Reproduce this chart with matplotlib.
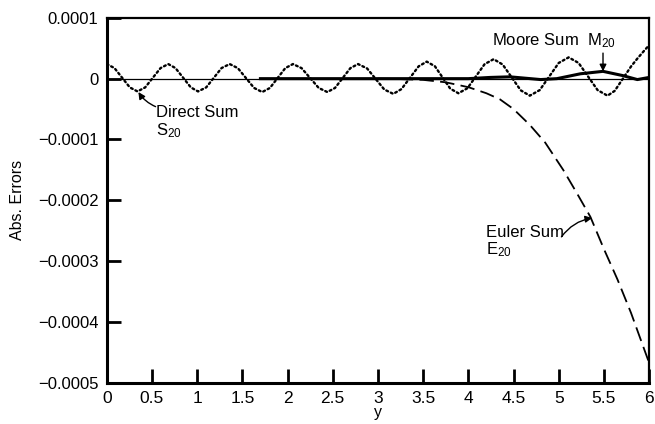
import matplotlib.pyplot as plt
from matplotlib.ticker import FixedLocator, FixedFormatter

plt.rcParams['font.family'] = ['Liberation Sans', 'DejaVu Sans']
plt.rcParams['mathtext.fontset'] = 'custom'
plt.rcParams['mathtext.rm'] = 'Liberation Sans'

# Direct sum S20 (dotted), values in units of 1e-4
direct_x = [0.00, 0.085, 0.17, 0.255, 0.34, 0.425, 0.51, 0.595, 0.68, 0.76, 0.845, 0.93,
            1.01, 1.10, 1.185, 1.27, 1.36, 1.45, 1.54, 1.63, 1.72, 1.805, 1.89, 1.975,
            2.06, 2.155, 2.25, 2.345, 2.44, 2.525, 2.61, 2.695, 2.78, 2.88, 2.975, 3.07,
            3.17, 3.26, 3.355, 3.45, 3.54, 3.63, 3.715, 3.80, 3.89, 3.99, 4.085, 4.18,
            4.28, 4.38, 4.48, 4.58, 4.68, 4.79, 4.895, 5.00, 5.11, 5.22, 5.325, 5.43,
            5.54, 5.62, 5.71, 5.80, 5.87, 5.94, 6.00]
direct_y = [0.24, 0.174, 0.015, -0.144, -0.21, -0.144, 0.015, 0.174, 0.24, 0.174, 0.015, -0.144,
            -0.21, -0.144, 0.015, 0.174, 0.24, 0.173, 0.01, -0.153, -0.22, -0.153, 0.01, 0.173,
            0.24, 0.173, 0.01, -0.153, -0.22, -0.153, 0.01, 0.173, 0.24, 0.168, -0.005, -0.178,
            -0.25, -0.172, 0.015, 0.202, 0.28, 0.204, 0.02, -0.164, -0.24, -0.158, 0.04, 0.238,
            0.32, 0.232, 0.02, -0.192, -0.28, -0.188, 0.035, 0.258, 0.35, 0.258, 0.035, -0.188,
            -0.28, -0.20, 0.0, 0.20, 0.33, 0.45, 0.55]

# Euler sum E20 (dashed)
euler_x = [3.0, 3.2, 3.5, 3.75, 4.0, 4.2, 4.35, 4.5, 4.68, 4.85, 5.05,
           5.2, 5.35, 5.5, 5.65, 5.8, 6.0]
euler_y = [0.0, -0.005, -0.02, -0.06, -0.14, -0.24, -0.34, -0.5, -0.76, -1.05, -1.5,
           -1.88, -2.27, -2.8, -3.3, -3.85, -4.67]

# Moore sum M20 (heavy solid)
moore_x = [1.7, 3.0, 4.0, 4.24, 4.46, 4.8, 4.98, 5.24, 5.49, 5.71, 5.87, 6.0]
moore_y = [0.0, 0.0, 0.0, 0.02, 0.03, -0.015, 0.0, 0.08, 0.12, 0.05, -0.015, 0.02]

x_ticks = [0, 0.5, 1, 1.5, 2, 2.5, 3, 3.5, 4, 4.5, 5, 5.5, 6]
x_labels = ['0', '0.5', '1', '1.5', '2', '2.5', '3', '3.5', '4', '4.5', '5', '5.5', '6']
y_ticks = [1e-4, 0, -1e-4, -2e-4, -3e-4, -4e-4, -5e-4]
y_labels = ['0.0001', '0', '\u22120.0001', '\u22120.0002', '\u22120.0003', '\u22120.0004', '\u22120.0005']

scale = 1e-4

fig = plt.figure(figsize=(6.55, 4.24), dpi=100)
ax = fig.add_axes([0.163, 0.097, 0.828, 0.861])

ax.axhline(0, color='black', lw=0.9)
ax.plot(direct_x, [v * scale for v in direct_y], color='black', lw=1.7,
        linestyle=(0, (0.8, 1.3)), dash_capstyle='round')
ax.plot(euler_x, [v * scale for v in euler_y], color='black', lw=1.3,
        linestyle=(0, (8, 3.5)))
ax.plot(moore_x, [v * scale for v in moore_y], color='black', lw=2.2)

ax.set_xlim(0, 6)
ax.set_ylim(-5e-4, 1e-4)
ax.xaxis.set_major_locator(FixedLocator(x_ticks))
ax.xaxis.set_major_formatter(FixedFormatter(x_labels))
ax.yaxis.set_major_locator(FixedLocator(y_ticks))
ax.yaxis.set_major_formatter(FixedFormatter(y_labels))
ax.tick_params(direction='in', length=10, width=2, pad=6)
ax.tick_params(axis='x', labelsize=12.5)
ax.tick_params(axis='y', labelsize=12)
ax.tick_params(top=False, right=False)

for side in ['left', 'bottom']:
    ax.spines[side].set_linewidth(2.2)
for side in ['top', 'right']:
    ax.spines[side].set_linewidth(1.6)

ax.set_xlabel('y', fontsize=11.5, labelpad=-1)
ax.set_ylabel('Abs. Errors', fontsize=11.5, labelpad=9)

arrow = dict(arrowstyle='-|>', color='black', lw=1.0, mutation_scale=10,
             shrinkA=0, shrinkB=0)
ax.annotate('Direct Sum\n$\\mathregular{S_{20}}$', xy=(0.34, -0.215e-4), xytext=(0.55, -0.44e-4),
            fontsize=12, ha='left', va='top', linespacing=1.05)
ax.annotate('', xy=(0.35, -0.22e-4), xytext=(0.54, -0.46e-4),
            arrowprops=dict(arrow, connectionstyle='arc3,rad=-0.15'))
ax.annotate('Moore Sum  $\\mathregular{M_{20}}$', xy=(5.49, 0.13e-4), xytext=(4.26, 0.62e-4),
            fontsize=12, ha='left', va='center')
ax.annotate('', xy=(5.49, 0.12e-4), xytext=(5.49, 0.42e-4),
            arrowprops=arrow)
ax.annotate('Euler Sum\n$\\mathregular{E_{20}}$', xy=(5.35, -2.3e-4), xytext=(4.2, -2.4e-4),
            fontsize=12, ha='left', va='top', linespacing=1.05)
ax.annotate('', xy=(5.37, -2.29e-4), xytext=(5.03, -2.6e-4),
            arrowprops=dict(arrow, connectionstyle='arc3,rad=-0.2'))

fig.savefig('out.png', dpi=100)
